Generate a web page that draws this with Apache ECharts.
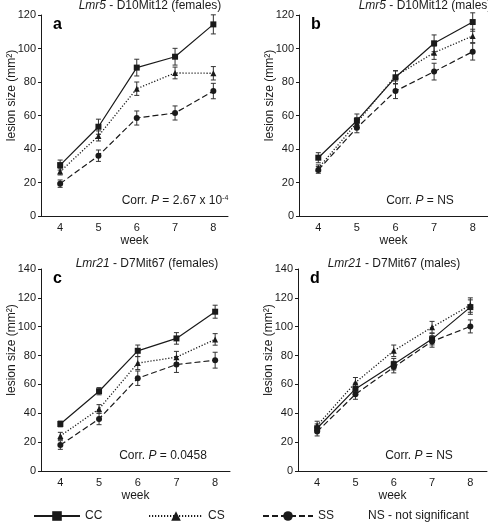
<!DOCTYPE html>
<html>
<head>
<meta charset="utf-8">
<script src="https://cdn.jsdelivr.net/npm/echarts@6/dist/echarts.min.js"></script>
<style>
html,body{margin:0;padding:0;background:#fff;}
#c{width:488px;height:525px;}
</style>
</head>
<body>
<div id="c"></div>
<script>
// ---- data ----
var weeks = [4, 5, 6, 7, 8];
var seriesNames = ['CC', 'CS', 'SS'];
var yTicksAB = [0, 20, 40, 60, 80, 100, 120];
var yTicksCD = [0, 20, 40, 60, 80, 100, 120, 140];

// panel a: Lmr5 - D10Mit12 (females)
var aCC = [30.4, 53.3, 88.6, 95.1, 114.4];
var aCCErr = [3, 4.5, 5, 5, 5.7];
var aCS = [26.5, 47.8, 76, 85.4, 85.2];
var aCSErr = [2, 3, 4, 3.5, 4];
var aSS = [19.3, 36, 58.5, 61.5, 74.6];
var aSSErr = [2.2, 3.4, 4.2, 4.2, 4.6];

// panel b: Lmr5 - D10Mit12 (males)
var bCC = [34.8, 56.9, 82.8, 103.1, 115.8];
var bCCErr = [3, 4, 4, 5, 5.5];
var bCS = [28.5, 55.7, 83.6, 97.5, 107.5];
var bCSErr = [2, 3, 3, 4, 4];
var bSS = [27.5, 52.7, 74.6, 86.2, 98.1];
var bSSErr = [2, 3, 4.5, 5, 5];

// panel c: Lmr21 - D7Mit67 (females)
var cCC = [32.6, 55.3, 83.3, 91.9, 110.4];
var cCCErr = [2, 2.5, 4, 4, 4.5];
var cCS = [24.3, 43, 74.8, 78.9, 91.2];
var cCSErr = [2.5, 3, 4.5, 4, 4];
var cSS = [18, 36.1, 64.3, 73.8, 76.8];
var cSSErr = [3, 4, 5, 5.5, 5.5];

// panel d: Lmr21 - D7Mit67 (males)
var dCC = [29.6, 56.9, 74, 91.4, 113.6];
var dCCErr = [3, 4, 4, 4, 5];
var dCS = [31.5, 61.3, 83.3, 99.7, 115];
var dCSErr = [3, 3.5, 4, 4, 5];
var dSS = [27.3, 53.2, 72, 89.8, 100.2];
var dSSErr = [3, 3.5, 4, 4, 4.5];

var panelLetters = ['a', 'b', 'c', 'd'];
var panelLocus = ['Lmr5', 'Lmr5', 'Lmr21', 'Lmr21'];
var panelMarker = [' - D10Mit12 (females)', ' - D10Mit12 (males)', ' - D7Mit67 (females)', ' - D7Mit67 (males)'];
var corrValues = ['2.67 x 10', 'NS', '0.0458', 'NS'];
var corrExp = ['-4', '', '', ''];

// ---- layout ----
var FONT = '"Liberation Sans", Arial, sans-serif';
var INK = '#1a1a1a';
var grids = [
  {left: 41, top: 15, width: 187, height: 201},
  {left: 299, top: 15, width: 189, height: 201},
  {left: 41, top: 269, width: 189, height: 202},
  {left: 298, top: 269, width: 189, height: 202}
];
var pxPerWeek = [38.3, 38.6, 38.7, 38.3];
var yMax = [120, 120, 140, 140];

var panels = [
  [[aCC, aCCErr], [aCS, aCSErr], [aSS, aSSErr]],
  [[bCC, bCCErr], [bCS, bCSErr], [bSS, bSSErr]],
  [[cCC, cCCErr], [cCS, cCSErr], [cSS, cSSErr]],
  [[dCC, dCCErr], [dCS, dCSErr], [dSS, dSSErr]]
];

var lineStyles = [
  {type: 'solid', width: 1.2},
  {type: [1.2, 1.8], width: 1.3},
  {type: [6, 3], width: 1.2}
];
var symbols = ['rect', 'triangle', 'circle'];
var symbolSizes = [6, 6, 6];

var xAxes = [], yAxes = [], series = [], graphics = [];

grids.forEach(function (g, i) {
  var xmax = 3.5 + g.width / pxPerWeek[i];
  xAxes.push({
    type: 'value', gridIndex: i, min: 3.5, max: xmax, interval: 0.5,
    splitLine: {show: false}, axisTick: {show: false},
    axisLine: {lineStyle: {color: INK, width: 1}},
    axisLabel: {
      color: INK, fontFamily: FONT, fontSize: 11, margin: 6,
      showMaxLabel: false, showMinLabel: false,
      formatter: function (v) { return Math.abs(v - Math.round(v)) < 1e-6 ? String(Math.round(v)) : ''; }
    },
    name: 'week', nameLocation: 'middle', nameGap: 19,
    nameTextStyle: {color: INK, fontFamily: FONT, fontSize: 12}
  });
  yAxes.push({
    type: 'value', gridIndex: i, min: 0, max: yMax[i], interval: 20,
    splitLine: {show: false},
    axisLine: {show: true, lineStyle: {color: INK, width: 1}},
    axisTick: {show: true, length: 3, lineStyle: {color: INK}},
    axisLabel: {color: INK, fontFamily: FONT, fontSize: 11, margin: 5}
  });

  panels[i].forEach(function (pair, k) {
    var vals = pair[0], errs = pair[1];
    var pts = weeks.map(function (w, j) { return [w, vals[j]]; });
    var ebs = weeks.map(function (w, j) { return [w, vals[j] - errs[j], vals[j] + errs[j]]; });
    series.push({
      type: 'line', name: seriesNames[k], xAxisIndex: i, yAxisIndex: i, z: 3,
      data: pts, symbol: symbols[k], symbolSize: symbolSizes[k],
      showAllSymbol: true,
      lineStyle: {color: INK, width: lineStyles[k].width, type: lineStyles[k].type},
      itemStyle: {color: INK},
      emphasis: {disabled: true}, animation: false
    });
    series.push({
      type: 'custom', name: seriesNames[k] + ' SEM', xAxisIndex: i, yAxisIndex: i, z: 2,
      data: ebs, silent: true,
      renderItem: function (params, api) {
        var lo = api.coord([api.value(0), api.value(1)]);
        var hi = api.coord([api.value(0), api.value(2)]);
        var cw = 2.5;
        var st = {stroke: '#333', lineWidth: 1};
        return {type: 'group', children: [
          {type: 'line', shape: {x1: lo[0], y1: lo[1], x2: hi[0], y2: hi[1]}, style: st},
          {type: 'line', shape: {x1: lo[0] - cw, y1: lo[1], x2: lo[0] + cw, y2: lo[1]}, style: st},
          {type: 'line', shape: {x1: hi[0] - cw, y1: hi[1], x2: hi[0] + cw, y2: hi[1]}, style: st}
        ]};
      }
    });
  });

  // texts
  var titleX = [150, 425, 147, 394][i];
  var titleY = [6, 6, 264, 264][i];
  graphics.push({
    type: 'text', x: titleX, y: titleY,
    style: {
      text: '{i|' + panelLocus[i] + '}{n|' + panelMarker[i] + '}',
      align: 'center', verticalAlign: 'middle', textAlign: 'center', textVerticalAlign: 'middle',
      rich: {
        i: {fontStyle: 'italic', fontFamily: FONT, fontSize: 12, fill: INK, color: INK},
        n: {fontFamily: FONT, fontSize: 12, fill: INK, color: INK}
      }
    }
  });
  graphics.push({
    type: 'text', x: g.left + 12, y: g.top + 10,
    style: {text: panelLetters[i], font: 'bold 16px ' + FONT, fill: '#000',
      align: 'left', verticalAlign: 'middle', textAlign: 'left', textVerticalAlign: 'middle'}
  });
  graphics.push({
    type: 'text', x: g.left - 29, y: g.top + g.height / 2 - 20, rotation: Math.PI / 2,
    style: {text: 'lesion size (mm\u00B2)', font: '12px ' + FONT, fill: INK,
      align: 'center', verticalAlign: 'middle', textAlign: 'center', textVerticalAlign: 'middle'}
  });
  var corrX = [175, 420, 163, 419][i];
  var corrText = '{n|Corr. }{i|P}{n| = ' + corrValues[i] + '}' + (corrExp[i] ? '{s|' + corrExp[i] + '}' : '');
  graphics.push({
    type: 'text', x: corrX, y: g.top + g.height - 15,
    style: {
      text: corrText,
      align: 'center', verticalAlign: 'middle', textAlign: 'center', textVerticalAlign: 'middle',
      rich: {
        n: {fontFamily: FONT, fontSize: 12, fill: INK, color: INK},
        i: {fontFamily: FONT, fontSize: 12, fontStyle: 'italic', fill: INK, color: INK},
        s: {fontFamily: FONT, fontSize: 7, fill: INK, color: INK, verticalAlign: 'top', padding: [0, 0, 6, 0]}
      }
    }
  });
});

graphics.push({
  type: 'text', x: 368, y: 516,
  style: {text: 'NS - not significant', font: '12px ' + FONT, fill: INK,
    align: 'left', verticalAlign: 'middle', textAlign: 'left', textVerticalAlign: 'middle'}
});

var legendLefts = [33, 148, 262];
var legendIconWidths = [46, 54, 50];
var legends = seriesNames.map(function (n, k) {
  return {
    data: [n], left: legendLefts[k], top: 510, padding: 0,
    itemWidth: legendIconWidths[k], itemHeight: 12, itemGap: 0,
    textStyle: {color: INK, fontFamily: FONT, fontSize: 12},
    selectedMode: false
  };
});

var chart = echarts.init(document.getElementById('c'), null, {renderer: 'canvas'});
chart.setOption({
  animation: false,
  backgroundColor: '#fff',
  grid: grids,
  xAxis: xAxes,
  yAxis: yAxes,
  legend: legends,
  series: series,
  graphic: graphics
});
</script>
</body>
</html>
